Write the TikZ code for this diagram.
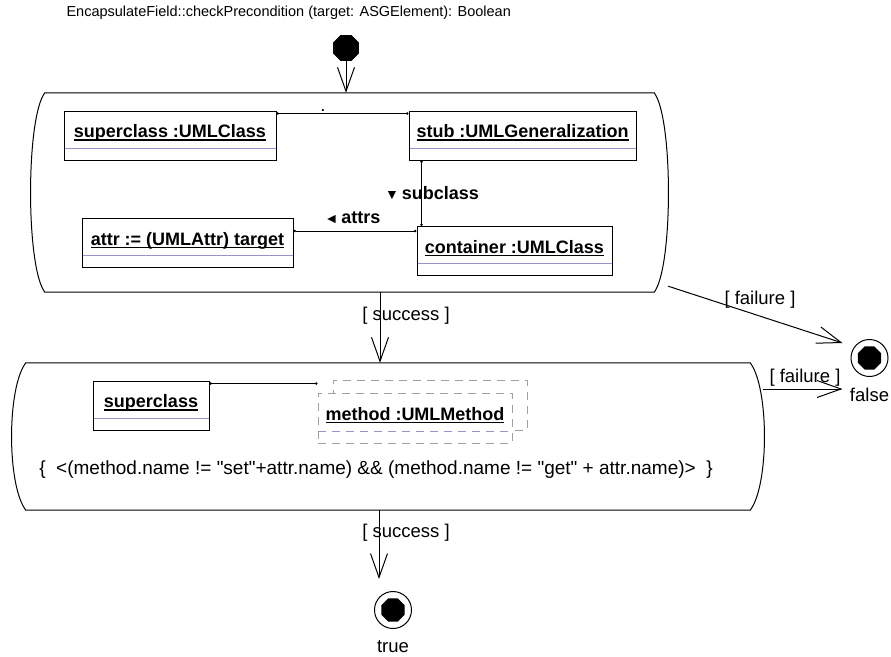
\documentclass[tikz,border=0pt]{standalone}
\usepackage{fontspec}
\setmainfont{Liberation Sans}
\newfontfamily\plainfont{Liberation Sans}
\usetikzlibrary{arrows.meta,shapes.geometric,shadows}
\definecolor{sepblue}{RGB}{150,150,200}
\definecolor{dashgray}{RGB}{160,160,160}
% underlined object name, line at a fixed depth
\newsavebox{\namebox}
\newcommand{\uname}[1]{\sbox{\namebox}{#1}\rlap{\rule[-3pt]{\wd\namebox}{1.2pt}}\usebox{\namebox}}
% outline of an activity: straight top and bottom, bent sides
\newcommand{\actoutline}[1]{%
  \draw[actline] ([xshift=13pt]#1.north west) -- ([xshift=-13pt]#1.north east)
    .. controls ([shift={(6pt,-25pt)}]#1.north east) and ([shift={(6pt,25pt)}]#1.south east) .. ([xshift=-13pt]#1.south east)
    -- ([xshift=13pt]#1.south west)
    .. controls ([shift={(-6pt,25pt)}]#1.south west) and ([shift={(-6pt,-25pt)}]#1.north west) .. cycle;}
\begin{document}
\begin{tikzpicture}[x=1pt, y=-1pt,
  actline/.style={line width=1pt},
  flow/.style={line width=1pt, -{Straight Barb[length=24pt, width=17pt, line width=1pt]}},
  link/.style={line width=1pt, {Circle[length=2.5pt]}-{Circle[length=2.5pt]}},
  obj/.style={draw, line width=1pt, fill=white, inner sep=0pt, minimum height=49pt,
    text height=13pt, text depth=9pt, font=\bfseries\fontsize{18}{20}\selectfont,
    path picture={\draw[sepblue, line width=1pt] ([yshift=12pt]path picture bounding box.south west) -- ([yshift=12pt]path picture bounding box.south east);}},
  multiobj/.style={obj, draw=dashgray, dash pattern=on 8pt off 6pt,
    copy shadow={shadow xshift=15pt, shadow yshift=13pt, draw=dashgray, dash pattern=on 8pt off 6pt, fill=white, line width=1pt}},
  guard/.style={font=\plainfont\fontsize{18.5}{20}\selectfont},
  rolelbl/.style={font=\bfseries\fontsize{18}{20}\selectfont},
  finalring/.style={circle, draw, line width=1pt, minimum size=37pt, inner sep=0pt},
  blob/.style={regular polygon, regular polygon sides=8, fill=black, inner sep=0pt, minimum size=26pt}]
\useasboundingbox (0,0) rectangle (891,656);

\node[anchor=west, font=\fontsize{14.5}{16}\selectfont] (title) at (63,13) {EncapsulateField::checkPrecondition (target: ASGElement): Boolean};

\node[blob, minimum size=28pt] (start) at (346,48) {};

% first activity
\node[minimum width=635pt, minimum height=199pt, inner sep=0pt] (act1) at (349.5,192.5) {};
\actoutline{act1}
\node[obj, minimum width=212pt] (superclass) at (170,135.5) {\uname{superclass :UMLClass}};
\node[obj, minimum width=227pt] (stub) at (522.5,135.5) {\uname{stub :UMLGeneralization}};
\node[obj, minimum width=211pt] (attr) at (187.5,243) {\uname{attr := (UMLAttr) target}};
\node[obj, minimum width=195pt] (container) at (514.5,251) {\uname{container :UMLClass}};
\draw[link] ([yshift=-3pt]superclass.north east) -- ([yshift=-3pt]superclass.north east -| stub.west);
\draw[link] ([xshift=13pt]stub.south west) -- ([xshift=13pt]stub.south west |- container.north);
\draw[link] ([yshift=-5pt]container.north west) -- ([yshift=-5pt]container.north west -| attr.east);
\node[guard, inner sep=0pt, anchor=base] (dotlbl) at (323,111) {.};
\node[rolelbl] (subcl) at (432,193) {{\fontsize{14}{14}\selectfont ▼}\,subclass};
\node[rolelbl] (attrs) at (352.5,218) {{\fontsize{14}{14}\selectfont ◄}\,attrs};

% second activity
\node[minimum width=750pt, minimum height=147pt, inner sep=0pt] (act2) at (388,436.5) {};
\actoutline{act2}
\node[obj, minimum width=116pt] (scl) at (151,405.5) {\uname{superclass}};
\node[multiobj, minimum width=194pt, minimum height=50pt] (method) at (415,418) {\uname{method :UMLMethod}};
\draw[link] ([yshift=-3pt]scl.north east) -- ([yshift=-3pt]scl.north east -| method.west);
\node[guard, font=\plainfont\fontsize{19}{20}\selectfont] (cons) at (376,470) {\{~~<(method.name != "set"+attr.name) \&\& (method.name != "get" + attr.name)>~~\}};

% final states
\node[finalring, label={[guard, label distance=8pt]below:false}] (false) at (869.5,358) {};
\node[blob, minimum size=25pt] (falsedot) at (false) {};
\node[finalring, label={[guard, label distance=8pt]below:true}] (true) at (393,610) {};
\node[blob, minimum size=25pt] (truedot) at (true) {};

% transitions
\draw[flow] (start) -- (start |- act1.north);
\draw[flow] ([xshift=30.5pt]act1.south) -- ([xshift=30.5pt]act1.south |- act2.north);
\node[guard] (succ1) at (406,316) {[ success ]};
\draw[flow] ([shift={(1pt,6pt)}]act1.south east) -- ([shift={(-8pt,15pt)}]false.west);
\node[guard] (fail1) at (760,300) {[ failure ]};
\draw[flow] ([yshift=47.5pt]act2.east) -- ([shift={(-8pt,-31pt)}]false.west);
\node[guard] (fail2) at (805,378) {[ failure ]};
\draw[flow, shorten >=12pt] ([xshift=-9pt]act2.south) -- ([xshift=-9pt]act2.south |- true.north);
\node[guard] (succ2) at (406,533) {[ success ]};
\end{tikzpicture}
\end{document}
